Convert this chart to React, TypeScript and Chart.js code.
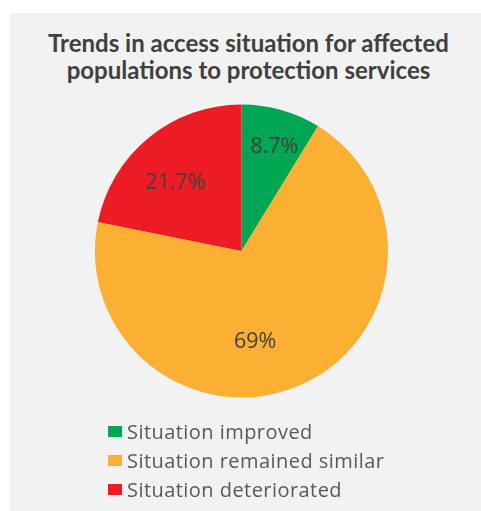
import React, { useEffect, useRef } from "react";
import { Chart, ArcElement, PieController } from "chart.js";

Chart.register(ArcElement, PieController);

const titleLines = [
  "Trends in access situation for affected",
  "populations to protection services",
];
const categories = [
  "Situation improved",
  "Situation remained similar",
  "Situation deteriorated",
];
const shares = [8.7, 69, 21.7];
const shareLabels = ["8.7%", "69%", "21.7%"];
const colors = ["#00a651", "#fbb034", "#ed1c24"];

const sliceLabelPlugin = {
  id: "sliceLabels",
  afterDatasetsDraw(chart: any, _args: any, opts: any) {
    const meta = chart.getDatasetMeta(0);
    const ctx = chart.ctx;
    ctx.save();
    ctx.font = opts.font;
    ctx.fillStyle = opts.color;
    ctx.textAlign = "center";
    ctx.textBaseline = "middle";
    meta.data.forEach((arc: any, i: number) => {
      const { x, y, startAngle, endAngle, outerRadius } = arc.getProps(
        ["x", "y", "startAngle", "endAngle", "outerRadius"],
        true
      );
      const p = opts.placement[i];
      const a = (startAngle + endAngle) / 2 + (p.shift * Math.PI) / 180;
      const r = outerRadius * p.frac;
      ctx.fillText(opts.labels[i], x + r * Math.cos(a), y + r * Math.sin(a));
    });
    ctx.restore();
  },
};

export default function App() {
  const canvasRef = useRef<HTMLCanvasElement | null>(null);

  useEffect(() => {
    if (!canvasRef.current) return;
    const chart = new Chart(canvasRef.current, {
      type: "pie",
      data: {
        labels: categories,
        datasets: [
          {
            data: shares,
            backgroundColor: colors,
            borderWidth: 0,
            hoverOffset: 0,
          },
        ],
      },
      options: {
        animation: false,
        responsive: true,
        maintainAspectRatio: false,
        layout: { padding: { left: 95, right: 93, top: 104, bottom: 113 } },
        events: [],
        plugins: {
          legend: { display: false },
          title: { display: false },
          tooltip: { enabled: false },
          sliceLabels: {
            labels: shareLabels,
            font: "21.5px 'Open Sans', sans-serif",
            color: "#404040",
            placement: [
              { frac: 0.744, shift: 1.8 },
              { frac: 0.63, shift: 15 },
              { frac: 0.645, shift: -5 },
            ],
          },
        } as any,
      },
      plugins: [sliceLabelPlugin as any],
    });
    return () => chart.destroy();
  }, []);

  return (
    <div
      style={{
        position: "absolute",
        left: 0,
        top: 0,
        width: 481,
        height: 511,
        overflow: "hidden",
        background: "#ffffff",
      }}
    >
      <div
        style={{
          position: "absolute",
          left: 10,
          top: 13,
          width: 480,
          height: 510,
          background: "#f2f2f2",
        }}
      />
      <div
        style={{
          position: "absolute",
          left: 10,
          top: 29,
          width: 477,
          textAlign: "center",
          fontFamily: "Lato, sans-serif",
          fontWeight: 700,
          fontSize: 24,
          lineHeight: "27px",
          color: "#404040",
        }}
      >
        {titleLines.map((t, i) => (
          <div key={i}>{t}</div>
        ))}
      </div>
      <div style={{ position: "absolute", left: 0, top: 0, width: 481, height: 511 }}>
        <canvas ref={canvasRef} />
      </div>
      <div
        style={{
          position: "absolute",
          left: 108,
          top: 417,
          fontFamily: "'Open Sans', sans-serif",
          fontSize: 20,
          letterSpacing: "0.45px",
          lineHeight: "29px",
          color: "#595959",
        }}
      >
        {categories.map((c, i) => (
          <div key={i} style={{ display: "flex", alignItems: "center", whiteSpace: "nowrap" }}>
            <span
              style={{
                display: "inline-block",
                width: 14,
                height: 11,
                background: colors[i],
                marginRight: 5,
              }}
            />
            <span>{c}</span>
          </div>
        ))}
      </div>
    </div>
  );
}
